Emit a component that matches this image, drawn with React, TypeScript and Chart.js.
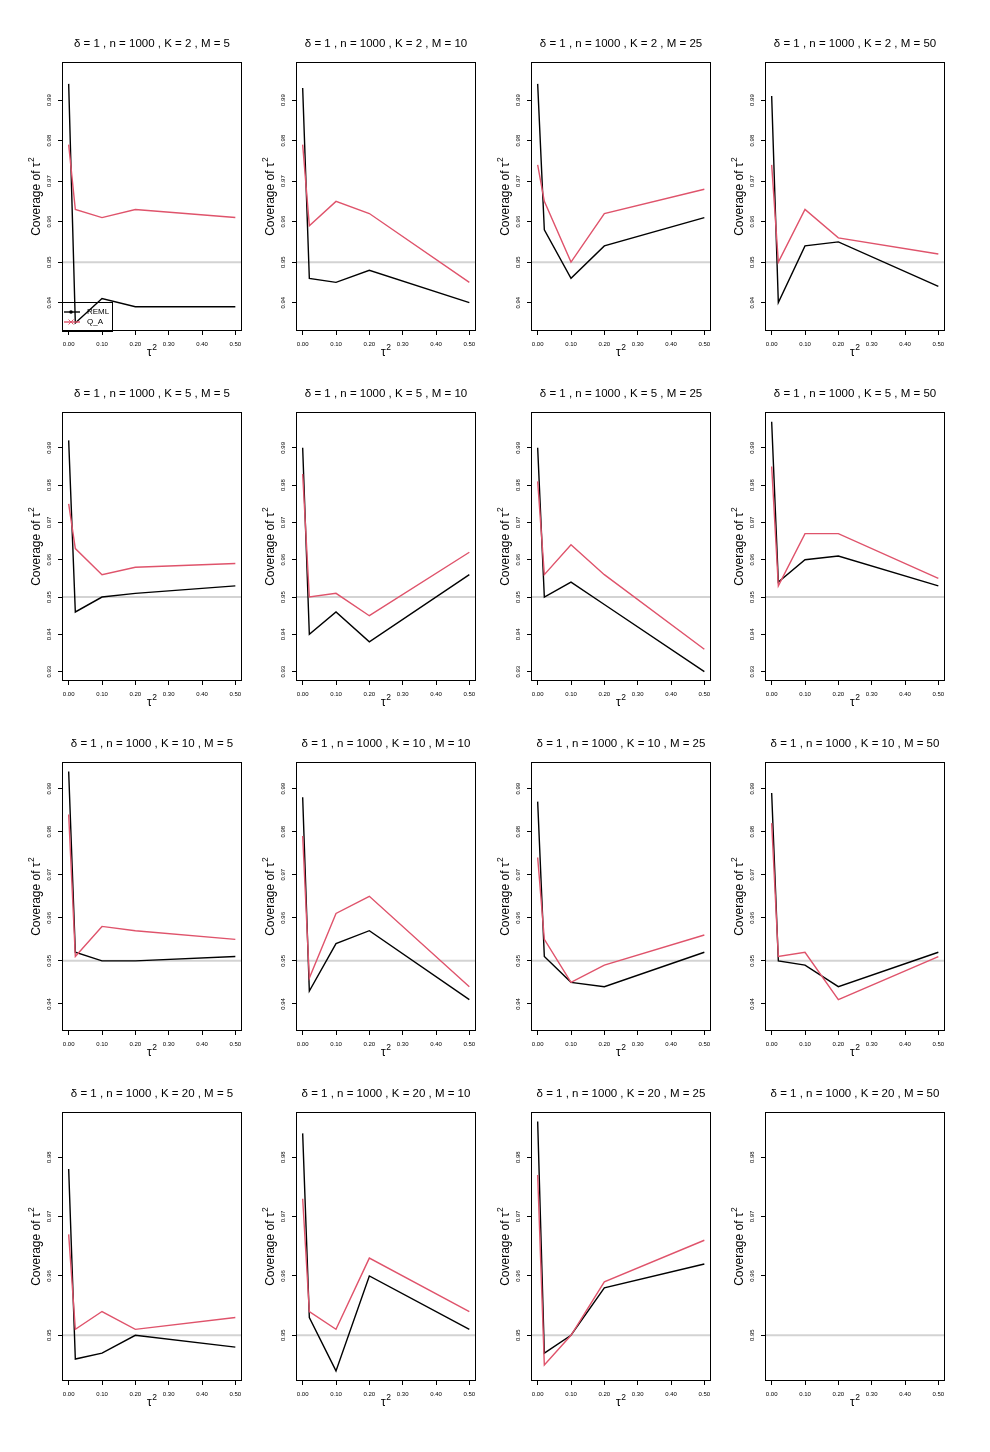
import React, { useEffect, useRef } from "react";
import { Chart, registerables } from "chart.js";

Chart.register(...registerables);

// ---------- data ----------
const tau2 = [0, 0.02, 0.1, 0.2, 0.5];
const xTickValues = [0, 0.1, 0.2, 0.3, 0.4, 0.5];
const xMin = -0.02;
const xMax = 0.52;
const deltaValue = 1;
const nValue = 1000;
const kValues = [2, 5, 10, 20];
const mValues = [5, 10, 25, 50];
const seriesLabels = ["REML", "Q_A"];
const nominalLevel = 0.95;

// each array: one list per M (5, 10, 25, 50), values at tau2
const remlK2 = [
  [0.994, 0.935, 0.941, 0.939, 0.939],
  [0.993, 0.946, 0.945, 0.948, 0.94],
  [0.994, 0.958, 0.946, 0.954, 0.961],
  [0.991, 0.94, 0.954, 0.955, 0.944],
];
const qaK2 = [
  [0.979, 0.963, 0.961, 0.963, 0.961],
  [0.979, 0.959, 0.965, 0.962, 0.945],
  [0.974, 0.965, 0.95, 0.962, 0.968],
  [0.974, 0.95, 0.963, 0.956, 0.952],
];
const remlK5 = [
  [0.992, 0.946, 0.95, 0.951, 0.953],
  [0.99, 0.94, 0.946, 0.938, 0.956],
  [0.99, 0.95, 0.954, 0.948, 0.93],
  [0.997, 0.954, 0.96, 0.961, 0.953],
];
const qaK5 = [
  [0.975, 0.963, 0.956, 0.958, 0.959],
  [0.983, 0.95, 0.951, 0.945, 0.962],
  [0.981, 0.956, 0.964, 0.956, 0.936],
  [0.985, 0.953, 0.967, 0.967, 0.955],
];
const remlK10 = [
  [0.994, 0.952, 0.95, 0.95, 0.951],
  [0.988, 0.943, 0.954, 0.957, 0.941],
  [0.987, 0.951, 0.945, 0.944, 0.952],
  [0.989, 0.95, 0.949, 0.944, 0.952],
];
const qaK10 = [
  [0.984, 0.951, 0.958, 0.957, 0.955],
  [0.979, 0.946, 0.961, 0.965, 0.944],
  [0.974, 0.955, 0.945, 0.949, 0.956],
  [0.982, 0.951, 0.952, 0.941, 0.951],
];
const remlK20 = [
  [0.978, 0.946, 0.947, 0.95, 0.948],
  [0.984, 0.953, 0.944, 0.96, 0.951],
  [0.986, 0.947, 0.95, 0.958, 0.962],
  [],
];
const qaK20 = [
  [0.967, 0.951, 0.954, 0.951, 0.953],
  [0.973, 0.954, 0.951, 0.963, 0.954],
  [0.977, 0.945, 0.95, 0.959, 0.966],
  [],
];

const remlByK = [remlK2, remlK5, remlK10, remlK20];
const qaByK = [qaK2, qaK5, qaK10, qaK20];

const rowYMin = [0.933, 0.9275, 0.9337, 0.9423];
const rowYMax = [0.9994, 0.9996, 0.9962, 0.9876];
const rowYTicks = [
  [0.94, 0.95, 0.96, 0.97, 0.98, 0.99],
  [0.93, 0.94, 0.95, 0.96, 0.97, 0.98, 0.99],
  [0.94, 0.95, 0.96, 0.97, 0.98, 0.99],
  [0.95, 0.96, 0.97, 0.98],
];

// ---------- layout ----------
const FONT = "'Liberation Sans', Arial, Helvetica, sans-serif";
const colBoxLeft = [62, 296, 531, 765];
const rowBoxTop = [62, 412, 762, 1112];
const BOX_W = 180;
const BOX_H = 269;
const PAD_L = 50;
const PAD_T = 40;
const CANVAS_W = 240;
const CANVAS_H = 340;

const pts = (arr: number[]) => arr.map((y, i) => ({ x: tau2[i], y }));

function drawSup(
  ctx: CanvasRenderingContext2D,
  main: string,
  sup: string,
  mainSize: number,
  supSize: number,
  raise: number
) {
  ctx.font = `${mainSize}px ${FONT}`;
  const w1 = ctx.measureText(main).width;
  ctx.font = `${supSize}px ${FONT}`;
  const w2 = ctx.measureText(sup).width;
  const total = w1 + w2 + 0.5;
  const x0 = -total / 2;
  ctx.textAlign = "left";
  ctx.textBaseline = "middle";
  ctx.font = `${mainSize}px ${FONT}`;
  ctx.fillText(main, x0, 0);
  ctx.font = `${supSize}px ${FONT}`;
  ctx.fillText(sup, x0 + w1 + 0.5, -raise);
}

const decorPlugin = {
  id: "rDecor",
  afterDraw(chart: any, _args: any, opts: any) {
    const ctx: CanvasRenderingContext2D = chart.ctx;
    const a = chart.chartArea;
    const yScale = chart.scales.y;
    ctx.save();
    ctx.fillStyle = "#000";
    ctx.strokeStyle = "#000";
    // box
    ctx.lineWidth = 1;
    ctx.strokeRect(a.left + 0.5, a.top + 0.5, a.right - a.left - 1, a.bottom - a.top - 1);

    // y tick labels (rotated, parallel to axis)
    ctx.font = `6px ${FONT}`;
    for (const t of yScale.ticks) {
      const py = yScale.getPixelForValue(t.value);
      ctx.save();
      ctx.translate(a.left - 12.5, py);
      ctx.rotate(-Math.PI / 2);
      ctx.textAlign = "center";
      ctx.textBaseline = "middle";
      ctx.fillText(Number(t.value).toFixed(2), 0, 0);
      ctx.restore();
    }

    // y title
    ctx.save();
    ctx.translate(a.left - 25, (a.top + a.bottom) / 2);
    ctx.rotate(-Math.PI / 2);
    drawSup(ctx, "Coverage of \u03C4", "2", 12, 8.5, 5.5);
    ctx.restore();

    // x title
    ctx.save();
    ctx.translate((a.left + a.right) / 2, a.bottom + 22);
    drawSup(ctx, "\u03C4", "2", 12, 8.5, 5.5);
    ctx.restore();

    // main title
    ctx.font = `11.5px ${FONT}`;
    ctx.textAlign = "center";
    ctx.textBaseline = "middle";
    ctx.fillText(opts.title, (a.left + a.right) / 2, a.top - 18);

    // legend
    if (opts.legend) {
      const lx = a.left;
      const ly = a.bottom - 29;
      ctx.lineWidth = 1;
      ctx.strokeRect(lx + 0.5, ly + 0.5, 50, 29);
      const ds = chart.data.datasets;
      const items = [
        { d: ds[1], y: ly + 10, marker: "dot" },
        { d: ds[2], y: ly + 20, marker: "x" },
      ];
      for (const it of items) {
        ctx.strokeStyle = it.d.borderColor;
        ctx.fillStyle = it.d.borderColor;
        ctx.lineWidth = 1.4;
        ctx.beginPath();
        ctx.moveTo(lx + 2, it.y);
        ctx.lineTo(lx + 18, it.y);
        ctx.stroke();
        const mx = lx + 9;
        if (it.marker === "dot") {
          ctx.beginPath();
          ctx.arc(mx, it.y, 1.8, 0, Math.PI * 2);
          ctx.fill();
        } else {
          ctx.lineWidth = 1;
          ctx.beginPath();
          ctx.moveTo(mx - 2.5, it.y - 2.5);
          ctx.lineTo(mx + 2.5, it.y + 2.5);
          ctx.moveTo(mx - 2.5, it.y + 2.5);
          ctx.lineTo(mx + 2.5, it.y - 2.5);
          ctx.stroke();
        }
        ctx.fillStyle = "#000";
        ctx.font = `8px ${FONT}`;
        ctx.textAlign = "left";
        ctx.textBaseline = "middle";
        ctx.fillText(it.d.label, lx + 25, it.y);
      }
    }
    ctx.restore();
  },
};

function Panel({ row, col }: { row: number; col: number }) {
  const ref = useRef<HTMLCanvasElement>(null);
  useEffect(() => {
    if (!ref.current) return;
    const reml = remlByK[row][col];
    const qa = qaByK[row][col];
    const title = `\u03B4 = ${deltaValue} , n = ${nValue} , K = ${kValues[row]} , M = ${mValues[col]}`;
    const yTicks = rowYTicks[row];
    const chart = new Chart(ref.current, {
      type: "line",
      data: {
        datasets: [
          {
            label: "nominal",
            data: [
              { x: xMin, y: nominalLevel },
              { x: xMax, y: nominalLevel },
            ],
            borderColor: "#d3d3d3",
            borderWidth: 2,
            pointRadius: 0,
            order: 3,
          },
          {
            label: seriesLabels[0],
            data: pts(reml),
            borderColor: "#000000",
            borderWidth: 1.4,
            pointRadius: 0,
            tension: 0,
            order: 2,
          },
          {
            label: seriesLabels[1],
            data: pts(qa),
            borderColor: "#DF536B",
            borderWidth: 1.4,
            pointRadius: 0,
            tension: 0,
            order: 1,
          },
        ],
      },
      options: {
        animation: false,
        responsive: false,
        maintainAspectRatio: false,
        devicePixelRatio: 1,
        layout: {
          padding: {
            left: 0,
            top: PAD_T,
            right: CANVAS_W - PAD_L - BOX_W,
            bottom: 0,
          },
        },
        plugins: {
          legend: { display: false },
          tooltip: { enabled: false },
          title: { display: false },
          rDecor: { title, legend: row === 0 && col === 0 },
        } as any,
        scales: {
          x: {
            type: "linear",
            min: xMin,
            max: xMax,
            afterBuildTicks: (s: any) => {
              s.ticks = xTickValues.map((v) => ({ value: v }));
            },
            afterFit: (s: any) => {
              s.height = CANVAS_H - PAD_T - BOX_H;
            },
            ticks: {
              callback: (v: any) => Number(v).toFixed(2),
              font: { size: 6, family: FONT },
              color: "#000",
              padding: 6,
              minRotation: 0,
              maxRotation: 0,
              autoSkip: false,
            },
            grid: {
              drawOnChartArea: false,
              drawTicks: true,
              tickLength: 4,
              color: "#000",
              lineWidth: 1,
            },
            border: { display: false },
          },
          y: {
            type: "linear",
            min: rowYMin[row],
            max: rowYMax[row],
            afterBuildTicks: (s: any) => {
              s.ticks = yTicks.map((v) => ({ value: v }));
            },
            afterFit: (s: any) => {
              s.width = PAD_L;
            },
            ticks: { display: false },
            grid: {
              drawOnChartArea: false,
              drawTicks: true,
              tickLength: 4,
              color: "#000",
              lineWidth: 1,
            },
            border: { display: false },
          },
        },
      } as any,
      plugins: [decorPlugin],
    });
    return () => chart.destroy();
  }, [row, col]);

  return (
    <canvas
      ref={ref}
      width={CANVAS_W}
      height={CANVAS_H}
      style={{
        position: "absolute",
        left: colBoxLeft[col] - PAD_L,
        top: rowBoxTop[row] - PAD_T,
        width: CANVAS_W,
        height: CANVAS_H,
      }}
    />
  );
}

export default function App() {
  const cells: JSX.Element[] = [];
  for (let r = 0; r < 4; r++) {
    for (let c = 0; c < 4; c++) {
      cells.push(<Panel key={`${r}-${c}`} row={r} col={c} />);
    }
  }
  return (
    <div
      style={{
        position: "absolute",
        left: 0,
        top: 0,
        width: 990,
        height: 1452,
        background: "#ffffff",
      }}
    >
      {cells}
    </div>
  );
}
